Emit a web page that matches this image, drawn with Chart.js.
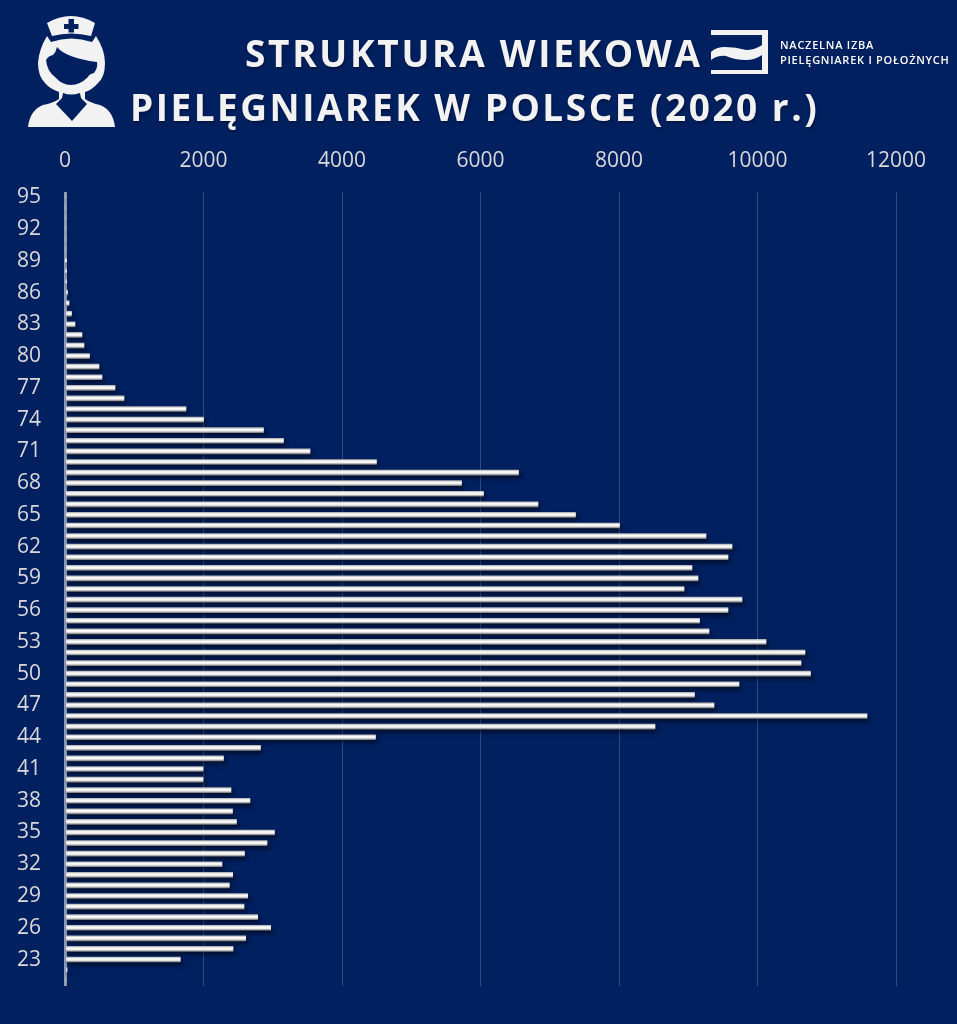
<!DOCTYPE html>
<html lang="pl">
<head>
<meta charset="UTF-8">
<title>Struktura wiekowa pielęgniarek w Polsce (2020 r.)</title>
<script src="https://cdn.jsdelivr.net/npm/chart.js"></script>
<style>
  html, body { margin: 0; padding: 0; background: #002060; }
  #page { position: relative; width: 957px; height: 1024px; overflow: hidden; }
  #wrap { position: absolute; left: 0; top: 0; width: 957px; height: 1024px; }
  .title { position: absolute; margin: 0; white-space: nowrap; font: 700 37px/44px "Open Sans", sans-serif;
           letter-spacing: 2.5px; color: #f2f2f2; text-shadow: 1px 2px 3px rgba(0,0,0,.35); }
  .org { position: absolute; white-space: nowrap; font: 600 11px/14px "Open Sans", sans-serif; color: #fff; letter-spacing: .75px; }
  svg { position: absolute; left: 0; top: 0; }
</style>
</head>
<body>
<div id="page">
  <div id="wrap"><canvas id="chart"></canvas></div>
  <svg width="957" height="140" viewBox="0 0 957 140">
    <!-- nurse icon -->
    <g fill="#f2f2f2">
      <path d="M47 23 Q71 9 95 23 L91 36 Q71 31 52 36 Z"/>
      <path d="M47 36 L51 42 Q71 35 92 42 L96 36 Q105 50 105 63 Q105 77 98 83 Q92 90 85 92 L85 99 Q91 103 100 105 Q113 110 115 127 L28 127 Q30 110 43 105 Q53 103 59 99 L59 92 Q50 89 45 83 Q38 76 38 63 Q39 49 47 36 Z"/>
    </g>
    <g fill="#002060">
      <path d="M68.5 19 h5.5 v5 h4.5 v5 h-4.5 v3.5 h-5.5 v-3.5 h-4.5 v-5 h4.5 Z"/>
      <path d="M57 47 Q66 58 97 62 Q98 68 94 73 Q89 74 88 77 Q80 85 71 85 Q62 85 55 77 Q47 71 46 60 Q48 56 53 55 Q56 52 57 47 Z"/>
      <path d="M63 93 Q71 96 80 93 L81 98 L87 104 L72 121 L56 104 L62 98 Z"/>
    </g>
    <!-- chamber logo -->
    <g fill="#f2f2f2">
      <path d="M711 30 H768 V74 H711 V70 H762 V35 H711 Z"/>
      <path d="M711 52 Q716 47 725 47 Q736 47 746 50 Q755 50 762 45 V55 Q755 60 746 60 Q735 60 726 56 Q718 55 711 60 Z"/>
    </g>
  </svg>
  <div class="title" style="left:245px;top:31px;letter-spacing:2.7px">STRUKTURA WIEKOWA</div>
  <div class="title" style="left:130px;top:85px">PIELĘGNIAREK W POLSCE (2020 r.)</div>
  <div class="org" style="left:780px;top:38px">NACZELNA IZBA</div>
  <div class="org" style="left:780px;top:53px">PIELĘGNIAREK I POŁOŻNYCH</div>
</div>
<script>
  const ages = [95,94,93,92,91,90,89,88,87,86,85,84,83,82,81,80,79,78,77,76,75,74,73,72,71,70,69,68,67,66,65,64,63,62,61,60,59,58,57,56,55,54,53,52,51,50,49,48,47,46,45,44,43,42,41,40,39,38,37,36,35,34,33,32,31,30,29,28,27,26,25,24,23,22,21];
  const nurses = [0,0,0,0,0,0,5,10,14,36,58,94,144,245,274,354,491,534,722,852,1747,2000,2866,3155,3538,4498,6549,5726,6043,6830,7372,8007,9256,9632,9574,9054,9141,8939,9776,9574,9163,9300,10123,10686,10628,10765,9733,9090,9372,11581,8520,4484,2823,2289,1993,1993,2397,2671,2419,2476,3025,2917,2592,2267,2421,2373,2638,2585,2782,2970,2609,2426,1665,30,0];
  const xTicks = [0,2000,4000,6000,8000,10000,12000];
  const labelEvery = 3;

  const canvas = document.getElementById('chart');
  canvas.width = 957;
  canvas.height = 1024;

  // soft drop shadow under the bars
  const barShadow = {
    id: 'barShadow',
    beforeDatasetsDraw(chart) {
      const c = chart.ctx;
      c.save();
      c.shadowColor = 'rgba(0,0,0,0.55)';
      c.shadowBlur = 4;
      c.shadowOffsetX = 2;
      c.shadowOffsetY = 3;
    },
    afterDatasetsDraw(chart) {
      chart.ctx.restore();
    }
  };

  function barFill(context) {
    const chart = context.chart;
    const yScale = chart.scales.y;
    const y = yScale ? yScale.getPixelForValue(context.dataIndex) : NaN;
    if (!Number.isFinite(y)) return '#e8e8e8';
    const g = chart.ctx.createLinearGradient(0, y - 2.5, 0, y + 2.5);
    g.addColorStop(0, '#b5b5b5');
    g.addColorStop(0.35, '#ffffff');
    g.addColorStop(0.65, '#eeeeee');
    g.addColorStop(1, '#7f7f7f');
    return g;
  }

  Chart.defaults.font.family = '"Open Sans", sans-serif';

  new Chart(canvas, {
    type: 'bar',
    data: {
      labels: ages,
      datasets: [{
        data: nurses,
        backgroundColor: barFill,
        borderWidth: 0,
        barThickness: 5
      }]
    },
    options: {
      indexAxis: 'y',
      responsive: false,
      animation: false,
      layout: { padding: { left: 0, top: 0, right: 61, bottom: 38 } },
      plugins: { legend: { display: false }, title: { display: false }, tooltip: { enabled: false } },
      scales: {
        x: {
          position: 'top',
          min: 0,
          max: 12000,
          afterBuildTicks(axis) { axis.ticks = xTicks.map(v => ({ value: v })); },
          afterFit(axis) { axis.height = 192; },
          border: { display: false },
          grid: {
            drawTicks: false,
            color: ctx => ctx.tick && ctx.tick.value === 0 ? 'rgba(255,255,255,0.55)' : 'rgba(255,255,255,0.2)',
            lineWidth: ctx => ctx.tick && ctx.tick.value === 0 ? 3 : 1
          },
          ticks: {
            color: '#d9d9d9',
            font: { size: 21 },
            padding: 18,
            maxRotation: 0,
            callback: v => String(v)
          }
        },
        y: {
          afterFit(axis) { axis.width = 65; },
          border: { display: false },
          grid: { display: false, drawTicks: false },
          ticks: {
            color: '#d9d9d9',
            font: { size: 21 },
            padding: 24,
            autoSkip: false,
            callback(value, index) { return index % labelEvery === 0 ? ages[index] : ''; }
          }
        }
      }
    },
    plugins: [barShadow]
  });
</script>
</body>
</html>
